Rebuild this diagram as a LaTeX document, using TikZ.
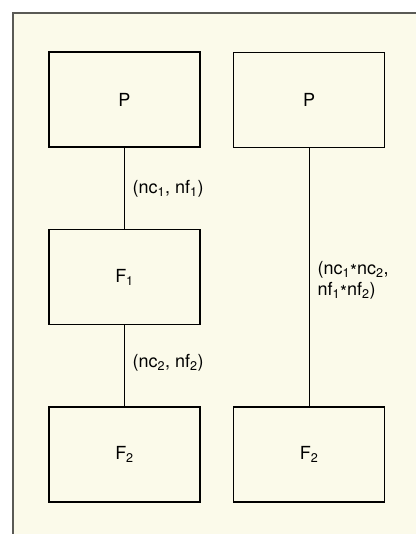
\documentclass[tikz,border=0pt]{standalone}
\usepackage{fontspec}
\setmainfont{TeX Gyre Heros}
\usepackage{xcolor}
\usepackage{tikz}
\definecolor{paper}{HTML}{FBFAEA}
\definecolor{rule}{HTML}{5A5A55}
\tikzset{every node/.append style={font=\fontsize{18}{21}\selectfont}}
\tikzset{block/.style={draw, line width=1.7pt, minimum width=151pt, minimum height=95pt, inner sep=0pt}}
\newcommand{\st}{\raisebox{-0.35ex}{*}}

\begin{document}
\begin{tikzpicture}[x=1pt, y=-1pt]
    \useasboundingbox (0,0) rectangle (416,534);
    \fill[paper] (13,13) rectangle (416,534);
    \draw[rule, line width=1.3pt] (13,534) -- (13,13) -- (416,13);
    % two-stage chain
    \node[block] (p1) at (124.5,99.5) {P};
    \node[block] (f1) at (124.5,277) {F\textsubscript{1}};
    \node[block] (f2) at (124.5,454.5) {F\textsubscript{2}};
    \draw[line width=0.7pt] (p1) -- (f1);
    \draw[line width=0.7pt] (f1) -- (f2);
    \node[anchor=west] (l1) at (129,189) {(nc\textsubscript{1}, nf\textsubscript{1})};
    \node[anchor=west] (l2) at (129,363) {(nc\textsubscript{2}, nf\textsubscript{2})};
    % combined
    \node[block] (p2) at (309,100) {P};
    \node[block] (f3) at (309,454.5) {F\textsubscript{2}};
    \draw[line width=0.7pt] (p2) -- (f3);
    \node[anchor=west, align=left] (l3) at (314,280) {(nc\textsubscript{1}\st nc\textsubscript{2},\\nf\textsubscript{1}\st nf\textsubscript{2})};
\end{tikzpicture}
\end{document}
